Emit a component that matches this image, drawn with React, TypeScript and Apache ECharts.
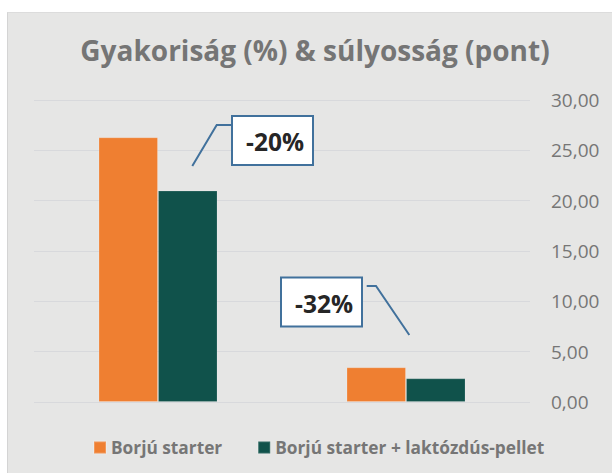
import React, { useEffect, useRef } from "react";
import * as echarts from "echarts";

const categories = ["Gyakoriság (%)", "Súlyosság (pont)"];
const seriesNames = ["Borjú starter", "Borjú starter + laktózdús-pellet"];
const starterValues = [26.3, 3.45];
const pelletValues = [21.0, 2.35];
const callouts = ["-20%", "-32%"];
const yMin = 0;
const yMax = 30;
const yStep = 5;

const FONT = "'Open Sans', sans-serif";
const BLUE = "#41719C";

export default function App() {
  const ref = useRef<HTMLDivElement>(null);
  useEffect(() => {
    if (!ref.current) return;
    const chart = echarts.init(ref.current, null, { renderer: "svg" });
    chart.setOption({
      animation: false,
      backgroundColor: "transparent",
      title: {
        text: "Gyakoriság (%) & súlyosság (pont)",
        left: 310,
        top: 31,
        textAlign: "center",
        textStyle: { fontFamily: FONT, fontWeight: "bold", fontSize: 28, color: "#757575" },
      },
      legend: {
        left: 88,
        top: 434,
        icon: "rect",
        itemWidth: 12,
        itemHeight: 12,
        itemGap: 35,
        textStyle: { fontFamily: FONT, fontWeight: "bold", fontSize: 17.3, color: "#767676" },
        data: seriesNames,
      },
      grid: { left: 34, right: 82, top: 100, bottom: 71, containLabel: false },
      xAxis: {
        type: "category",
        data: categories,
        axisLabel: { show: false },
        axisLine: { show: false },
        axisTick: { show: false },
      },
      yAxis: {
        type: "value",
        position: "right",
        min: yMin,
        max: yMax,
        interval: yStep,
        axisLine: { show: false },
        axisTick: { show: false },
        splitLine: { lineStyle: { color: "#d8d9dc", width: 1 } },
        axisLabel: {
          margin: 21,
          fontFamily: FONT,
          fontSize: 19,
          color: "#767676",
          formatter: (v: number) => v.toFixed(2).replace(".", ","),
        },
      },
      series: [
        {
          name: seriesNames[0],
          type: "bar",
          data: starterValues,
          barWidth: 59.5,
          barGap: "0%",
          itemStyle: { color: "#EF7F31", borderColor: "rgba(255,255,255,0.2)", borderWidth: 1 },
        },
        {
          name: seriesNames[1],
          type: "bar",
          data: pelletValues,
          barWidth: 59.5,
          barGap: "0%",
          itemStyle: { color: "#10524B", borderColor: "rgba(255,255,255,0.15)", borderWidth: 1 },
        },
      ],
      graphic: [
        {
          type: "polyline",
          shape: { points: [[192.3, 166], [216.7, 125], [232, 125]] },
          style: { stroke: BLUE, lineWidth: 2, fill: null },
          z: 10,
        },
        {
          type: "rect",
          shape: { x: 232, y: 116, width: 81, height: 49 },
          style: { fill: "#ffffff", stroke: BLUE, lineWidth: 2 },
          z: 10,
        },
        {
          type: "text",
          x: 275,
          y: 141.5,
          style: {
            text: callouts[0],
            fontFamily: FONT,
            fontWeight: "bold",
            fontSize: 24.5,
            fill: "#262626",
            align: "center",
            verticalAlign: "middle",
          },
          z: 11,
        },
        {
          type: "polyline",
          shape: { points: [[366.7, 286], [376, 286], [409.3, 335]] },
          style: { stroke: BLUE, lineWidth: 2, fill: null },
          z: 10,
        },
        {
          type: "rect",
          shape: { x: 281, y: 277.5, width: 81, height: 49 },
          style: { fill: "#ffffff", stroke: BLUE, lineWidth: 2 },
          z: 10,
        },
        {
          type: "text",
          x: 324,
          y: 303,
          style: {
            text: callouts[1],
            fontFamily: FONT,
            fontWeight: "bold",
            fontSize: 24.5,
            fill: "#262626",
            align: "center",
            verticalAlign: "middle",
          },
          z: 11,
        },
      ],
    });
    return () => chart.dispose();
  }, []);

  return (
    <div style={{ position: "fixed", left: 0, top: 0, width: 612, height: 473, background: "#ffffff" }}>
      <div
        style={{
          position: "absolute",
          left: 7,
          top: 12,
          right: 0,
          bottom: 0,
          background: "#e6e6e5",
          borderLeft: "1px solid #d4d4d4",
          borderTop: "1px solid #dcdcdc",
        }}
      />
      <div ref={ref} style={{ position: "absolute", left: 0, top: 0, width: 612, height: 473 }} />
    </div>
  );
}
